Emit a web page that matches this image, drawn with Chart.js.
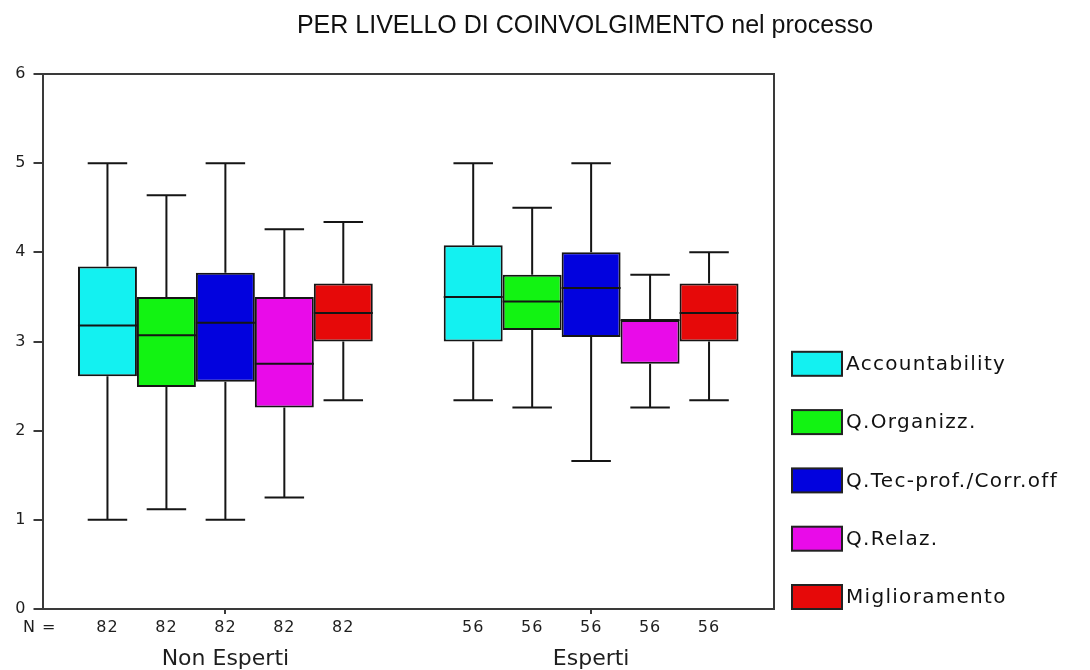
<!DOCTYPE html>
<html>
<head>
<meta charset="utf-8">
<script src="https://cdn.jsdelivr.net/npm/chart.js@4.4.1/dist/chart.umd.min.js"></script>
<style>
  html, body { margin: 0; padding: 0; background: #fff; }
  #wrap { width: 1090px; height: 670px; position: relative; }
</style>
</head>
<body>
<div id="wrap"><canvas id="chart" width="1090" height="670"></canvas></div>
<script>
// --- Dati ---
const groups = ['Non Esperti', 'Esperti'];
const counts = [82, 56];
const series = ['Accountability', 'Q.Organizz.', 'Q.Tec-prof./Corr.off', 'Q.Relaz.', 'Miglioramento'];
const colors = ['#13F1F1', '#12F312', '#0202DE', '#E90BE9', '#E60909'];

// righe = serie, colonne = gruppi
const whiskerLow  = [[1.0, 2.34], [1.12, 2.26], [1.0, 1.66], [1.25, 2.26], [2.34, 2.34]];
const quartile1   = [[2.61, 3.0], [2.49, 3.13], [2.55, 3.05], [2.26, 2.75], [3.0, 3.0]];
const medians     = [[3.18, 3.5], [3.07, 3.45], [3.21, 3.6], [2.75, 3.24], [3.32, 3.32]];
const quartile3   = [[3.84, 4.08], [3.5, 3.75], [3.77, 4.0], [3.5, 3.24], [3.65, 3.65]];
const whiskerHigh = [[5.0, 5.0], [4.64, 4.5], [5.0, 5.0], [4.26, 3.75], [4.34, 4.0]];
const yTicks = [0, 1, 2, 3, 4, 5, 6];

const axisColor = '#3a3a3a';
const textColor = '#1e1e1e';

// --- Baffi e mediana sopra le barre flottanti ---
const whiskerPlugin = {
  id: 'whiskers',
  afterDatasetsDraw(chart) {
    const ctx = chart.ctx;
    const y = chart.scales.y;
    ctx.save();
    ctx.strokeStyle = '#151515';
    ctx.lineWidth = 2;
    chart.data.datasets.forEach((ds, i) => {
      const meta = chart.getDatasetMeta(i);
      meta.data.forEach((bar, j) => {
        const x = bar.x;
        const half = bar.width / 2;
        const cap = bar.width * 0.335;
        const yLow = y.getPixelForValue(whiskerLow[i][j]);
        const yHigh = y.getPixelForValue(whiskerHigh[i][j]);
        const yQ1 = y.getPixelForValue(quartile1[i][j]);
        const yQ3 = y.getPixelForValue(quartile3[i][j]);
        const yMed = y.getPixelForValue(medians[i][j]);
        ctx.beginPath();
        ctx.moveTo(x, yQ3); ctx.lineTo(x, yHigh);
        ctx.moveTo(x - cap, yHigh); ctx.lineTo(x + cap, yHigh);
        ctx.moveTo(x, yQ1); ctx.lineTo(x, yLow);
        ctx.moveTo(x - cap, yLow); ctx.lineTo(x + cap, yLow);
        ctx.moveTo(x - half, yMed); ctx.lineTo(x + half, yMed);
        ctx.stroke();
      });
    });
    ctx.restore();
  }
};

// --- Titolo, cornice, legenda e numerosità ---
const decorPlugin = {
  id: 'decor',
  afterDraw(chart) {
    const ctx = chart.ctx;
    const area = chart.chartArea;
    ctx.save();

    // cornice superiore e destra
    ctx.strokeStyle = axisColor;
    ctx.lineWidth = 2;
    ctx.beginPath();
    ctx.moveTo(area.left, area.top);
    ctx.lineTo(area.right, area.top);
    ctx.lineTo(area.right, area.bottom);
    ctx.stroke();

    // titolo
    ctx.fillStyle = '#111';
    ctx.font = '25px "Liberation Sans", Arial, sans-serif';
    ctx.textAlign = 'center';
    ctx.textBaseline = 'alphabetic';
    ctx.fillText('PER LIVELLO DI COINVOLGIMENTO nel processo', 585, 33);

    // N = e conteggi sotto ogni box
    ctx.font = '16px "DejaVu Sans", sans-serif';
    ctx.fillStyle = textColor;
    ctx.textBaseline = 'middle';
    ctx.letterSpacing = '1px';
    ctx.textAlign = 'left';
    ctx.fillText('N =', 23, area.bottom + 19);
    ctx.textAlign = 'center';
    chart.data.datasets.forEach((ds, i) => {
      chart.getDatasetMeta(i).data.forEach((bar, j) => {
        ctx.fillText(String(counts[j]), bar.x, area.bottom + 19);
      });
    });

    // legenda
    const boxW = 50, boxH = 24, step = 58.3;
    const lx = area.right + 18;
    ctx.font = '20px "DejaVu Sans", sans-serif';
    ctx.letterSpacing = '1.3px';
    ctx.textAlign = 'left';
    series.forEach((name, i) => {
      const top = area.bottom - boxH - (series.length - 1 - i) * step;
      ctx.fillStyle = colors[i];
      ctx.fillRect(lx, top, boxW, boxH);
      ctx.strokeStyle = '#222';
      ctx.lineWidth = 2;
      ctx.strokeRect(lx, top, boxW, boxH);
      ctx.fillStyle = '#111';
      ctx.fillText(name, lx + boxW + 4, top + boxH / 2 + 1);
    });
    ctx.restore();
  }
};

const datasets = series.map((name, i) => ({
  label: name,
  data: groups.map((g, j) => [quartile1[i][j], quartile3[i][j]]),
  backgroundColor: colors[i],
  borderColor: '#151515',
  borderWidth: 2,
  borderSkipped: false,
  categoryPercentage: 0.806,
  barPercentage: 1.0
}));

new Chart(document.getElementById('chart'), {
  type: 'bar',
  data: { labels: groups, datasets },
  options: {
    responsive: false,
    animation: false,
    layout: { padding: { top: 74, right: 316, left: 0, bottom: 0 } },
    plugins: {
      legend: { display: false },
      tooltip: { enabled: false },
      title: { display: false }
    },
    scales: {
      x: {
        offset: true,
        afterFit: axis => { axis.height = 61; },
        grid: { offset: false, drawOnChartArea: false, drawTicks: true, tickLength: 5, color: axisColor, lineWidth: 2 },
        border: { color: axisColor, width: 2 },
        ticks: { font: { family: 'DejaVu Sans', size: 22, lineHeight: 1 }, color: textColor, padding: 34 }
      },
      y: {
        min: 0,
        max: 6,
        afterFit: axis => { axis.width = 42.5; },
        afterBuildTicks: axis => { axis.ticks = yTicks.map(v => ({ value: v })); },
        grid: { drawOnChartArea: false, drawTicks: true, tickLength: 9, color: axisColor, lineWidth: 2 },
        border: { color: axisColor, width: 2 },
        ticks: { font: { family: 'DejaVu Sans', size: 16 }, color: textColor, padding: 8 }
      }
    }
  },
  plugins: [whiskerPlugin, decorPlugin]
});
</script>
</body>
</html>
